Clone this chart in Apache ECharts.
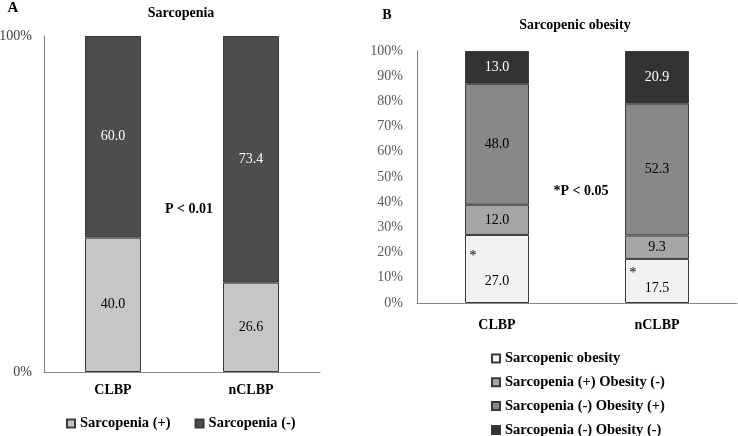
<!DOCTYPE html>
<html>
<head>
<meta charset="utf-8">
<script src="https://cdn.jsdelivr.net/npm/echarts@6/dist/echarts.min.js"></script>
<style>html,body{margin:0;padding:0;background:#fff}#c{width:738px;height:436px}</style>
</head>
<body>
<div id="c"></div>
<script>
// ---- data ----
const categories = ['CLBP', 'nCLBP'];
// Panel A: Sarcopenia
const sarcPos = [40.0, 26.6];
const sarcNeg = [60.0, 73.4];
// Panel B: Sarcopenic obesity
const sarcObese = [27.0, 17.5];
const sarcPosObNeg = [12.0, 9.3];
const sarcNegObPos = [48.0, 52.3];
const sarcNegObNeg = [13.0, 20.9];
const yTicksA = ['0%', '100%'];
const yTicksB = ['0%','10%','20%','30%','40%','50%','60%','70%','80%','90%','100%'];

const FONT = "'Liberation Serif','Times New Roman',serif";
const border = '#3a3a3a';
const starLine = [34, 14];
const starOffset = [-5, 0];

function lbl(color) {
  return {show: true, position: 'inside', color: color, fontFamily: FONT, fontSize: 14,
    formatter: p => p.value.toFixed(1)};
}
function bar(name, xi, data, color, labelColor, width) {
  return {name, type: 'bar', stack: 's' + xi, xAxisIndex: xi, yAxisIndex: xi,
    data, barWidth: width,
    itemStyle: {color, borderColor: border, borderWidth: 1},
    label: lbl(labelColor)};
}

const soData = sarcObese.map((v, i) => ({
  value: v,
  label: {
    show: true, position: 'inside', offset: [0, starOffset[i]],
    formatter: p => '{s|*}\n{v|' + p.value.toFixed(1) + '}',
    rich: {
      s: {fontFamily: FONT, fontSize: 14, color: '#000', padding: [0, 48, 0, 0], lineHeight: starLine[i]},
      v: {fontFamily: FONT, fontSize: 14, color: '#000', lineHeight: 16}
    }
  }
}));

const axisY = (gi, ticks, color, margin) => ({
  type: 'value', gridIndex: gi, min: 0, max: 100, interval: 100 / (ticks.length - 1),
  axisLine: {show: true, lineStyle: {color: '#7f7f7f'}},
  axisTick: {show: false}, splitLine: {show: false},
  axisLabel: {color, fontFamily: FONT, fontSize: 14, margin,
    formatter: v => ticks[Math.round(v / (100 / (ticks.length - 1)))]}
});
const axisX = (gi, margin) => ({
  type: 'category', gridIndex: gi, data: categories,
  axisLine: {lineStyle: {color: '#8a8a8a'}}, axisTick: {show: false},
  axisLabel: {color: '#000', fontFamily: FONT, fontSize: 14, fontWeight: 'bold', margin}
});

const txt = (text, x, y, size) => ({type: 'text', x: x, y: y,
  style: {text, font: 'bold ' + (size || 14) + 'px ' + FONT, fill: '#000', textAlign: 'center', textVerticalAlign: 'middle'}});

const legendText = {fontFamily: FONT, fontSize: 14.5, fontWeight: 'bold', color: '#000'};

const option = {
  animation: false,
  backgroundColor: '#fff',
  grid: [
    {left: 44, top: 36, width: 276, height: 336, outerBoundsMode: 'none', containLabel: false},
    {left: 417, top: 51, width: 320, height: 252, outerBoundsMode: 'none', containLabel: false}
  ],
  xAxis: [axisX(0, 11), axisX(1, 15)],
  yAxis: [axisY(0, yTicksA, '#404040', 12), axisY(1, yTicksB, '#595959', 14)],
  legend: [
    {data: ['Sarcopenia (+)', 'Sarcopenia (-)'], left: 61, top: 411, itemWidth: 8, itemHeight: 8, itemGap: 24,
      icon: 'rect', textStyle: legendText},
    {data: ['Sarcopenic obesity', 'Sarcopenia (+) Obesity (-)', 'Sarcopenia (-) Obesity (+)', 'Sarcopenia (-) Obesity (-)'],
      orient: 'vertical', left: 486, top: 346, height: 140, itemWidth: 8, itemHeight: 8, itemGap: 8.8,
      icon: 'rect', textStyle: legendText}
  ],
  graphic: [
    txt('A', 13, 8, 15), txt('Sarcopenia', 181, 13),
    txt('B', 387, 15, 14), txt('Sarcopenic obesity', 575, 25),
    txt('P < 0.01', 189, 209), txt('*P < 0.05', 581, 191)
  ],
  series: [
    bar('Sarcopenia (+)', 0, sarcPos, '#c6c6c6', '#000', 56),
    bar('Sarcopenia (-)', 0, sarcNeg, '#4d4d4d', '#fff', 56),
    Object.assign(bar('Sarcopenic obesity', 1, soData, '#f2f2f2', '#000', 64), {label: {show: true}}),
    bar('Sarcopenia (+) Obesity (-)', 1, sarcPosObNeg, '#a6a6a6', '#000', 64),
    bar('Sarcopenia (-) Obesity (+)', 1, sarcNegObPos, '#888888', '#000', 64),
    bar('Sarcopenia (-) Obesity (-)', 1, sarcNegObNeg, '#333333', '#fff', 64)
  ]
};
const chart = echarts.init(document.getElementById('c'), null, {renderer: 'canvas'});
chart.setOption(option);
</script>
</body>
</html>
